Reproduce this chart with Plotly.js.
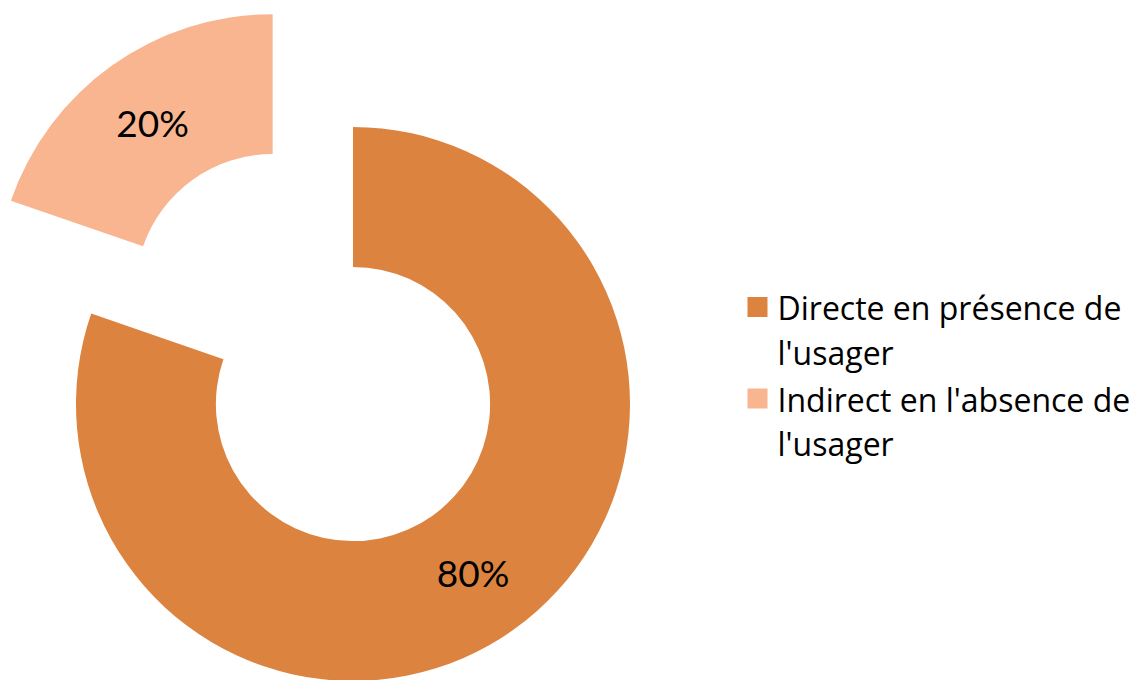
<!DOCTYPE html>
<html>
<head>
<meta charset="utf-8">
<script src="https://cdn.plot.ly/plotly-3.0.1.min.js"></script>
<style>
  html, body { margin: 0; padding: 0; background: #ffffff; }
  body { width: 1145px; height: 680px; overflow: hidden; position: relative; }
  #chart { position: absolute; left: -100px; top: -20px; width: 1245px; height: 1000px; }
</style>
</head>
<body>
<div id="chart"></div>
<script>
const categories = ["Directe en présence de<br>l'usager", "Indirect en l'absence de<br>l'usager"];
const values = [80.3, 19.7];
const sliceColors = ['#DC843F', '#F8B590'];
const pulls = [0, 0.5];

const labelSize = 32;
const legendLabels = categories.map(c => c.split('<br>').map(s => `<span style="font-size:${labelSize}px">${s}</span>`).join('<br>'));

const trace = {
  type: 'pie',
  labels: legendLabels,
  values: values,
  hole: 0.495,
  sort: false,
  direction: 'clockwise',
  rotation: 0,
  pull: pulls,
  marker: { colors: sliceColors, line: { width: 0 } },
  texttemplate: '%{percent:.0%}',
  textposition: 'inside',
  insidetextorientation: 'horizontal',
  textfont: { family: 'Lato, sans-serif', size: 37, color: '#000000' },
  domain: { x: [0.0024, 0.7253], y: [0.1605, 0.9915] },
  hoverinfo: 'label+percent'
};

const layout = {
  width: 1245,
  height: 1000,
  margin: { l: 0, r: 0, t: 0, b: 0 },
  paper_bgcolor: '#ffffff',
  plot_bgcolor: '#ffffff',
  showlegend: true,
  legend: {
    x: 0.6727, xanchor: 'left',
    y: 0.605, yanchor: 'middle',
    valign: 'top',
    font: { family: '"Open Sans", sans-serif', size: 34, color: '#000000' },
    bgcolor: 'rgba(0,0,0,0)'
  }
};

Plotly.newPlot('chart', [trace], layout, { displayModeBar: false, staticPlot: true }).then(() => {
  document.querySelectorAll('.legendpie').forEach(p => p.setAttribute('d', 'M10,10H-10V-10H10Z'));
});
</script>
</body>
</html>
